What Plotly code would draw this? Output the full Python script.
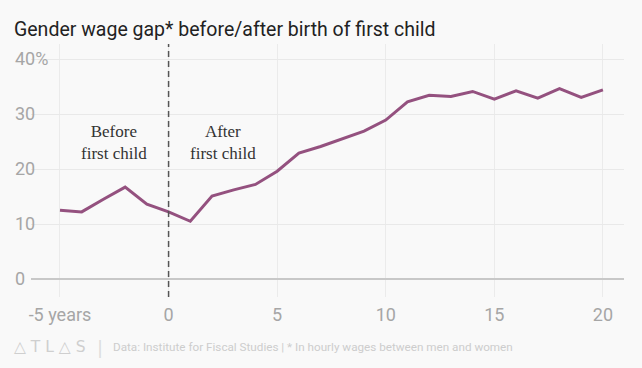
import plotly.graph_objects as go

# ---- data ----
years = list(range(-5, 21))
wage_gap = [12.5, 12.2, 14.5, 16.7, 13.6, 12.2, 10.5, 15.1, 16.2, 17.2,
            19.6, 22.9, 24.1, 25.5, 26.9, 28.9, 32.2, 33.4, 33.2, 34.1,
            32.7, 34.2, 32.9, 34.6, 33.0, 34.4]
x_tick_vals = [-5, 0, 5, 10, 15, 20]
x_tick_text = ["-5 years", "0", "5", "10", "15", "20"]
y_tick_vals = [0, 10, 20, 30, 40]
y_tick_text = ["0", "10", "20", "30", "40%"]
birth_year = 0
label_before = ("Before<br>first child", -2.5, 24.9)
label_after = ("After<br>first child", 2.5, 24.9)

title_text = "Gender wage gap* before/after birth of first child"
source_text = "Data: Institute for Fiscal Studies | * In hourly wages between men and women"

BG = "#f9f9f9"
LINE = "#94517f"
PLOT_W, PLOT_H, ML, MT = 593, 253, 31, 44

fig = go.Figure()
fig.add_trace(go.Scatter(x=years, y=wage_gap, mode="lines",
                         line=dict(color=LINE, width=3), hoverinfo="skip",
                         showlegend=False))

fig.add_vline(x=birth_year, line=dict(color="#555555", width=1.5, dash="6px,4px"))

# gaps in the horizontal gridlines right after the y tick labels
gap_ends = {10: 38, 20: 40, 30: 40, 40: 62}
for yv, px_end in gap_ends.items():
    fig.add_shape(type="rect", xref="paper", yref="y", layer="between",
                  x0=0, x1=(px_end - ML) / PLOT_W, y0=yv - 0.4, y1=yv + 0.4,
                  fillcolor=BG, line=dict(width=0))

for txt, xv, yv in (label_before, label_after):
    fig.add_annotation(x=xv, y=yv, text=txt, showarrow=False,
                       font=dict(family="Liberation Serif", size=17, color="#333333"),
                       align="center")

fig.update_layout(
    width=642, height=368,
    margin=dict(l=ML, r=642 - ML - PLOT_W, t=MT, b=368 - MT - PLOT_H),
    paper_bgcolor=BG, plot_bgcolor=BG,
    title=dict(text=title_text, x=14/642, xanchor="left", xref="container",
               y=1 - 29/368, yanchor="middle", yref="container",
               font=dict(family="Roboto", size=19.5, color="#222222")),
    xaxis=dict(range=[-6.335, 20.97], tickvals=x_tick_vals, ticktext=x_tick_text,
               showgrid=True, gridcolor="#ebebeb", gridwidth=1, zeroline=False,
               showline=False, ticks="",
               tickfont=dict(family="Roboto", size=18, color="#a6a6a6"),
               ticklabelstandoff=5),
    yaxis=dict(range=[-3.27, 42.73], tickvals=y_tick_vals, ticktext=y_tick_text,
               showgrid=True, gridcolor="#e9e9e9", gridwidth=1,
               zeroline=True, zerolinecolor="#c8c8c8", zerolinewidth=1.5,
               showline=False, ticks="",
               ticklabelposition="inside", ticklabelstandoff=-19,
               tickfont=dict(family="Roboto", size=18, color="#a6a6a6")),
)

fig.add_annotation(xref="paper", yref="paper", x=-19/PLOT_W, y=-50/PLOT_H,
                   xanchor="left", yanchor="middle", showarrow=False,
                   text="△ T L △ S", font=dict(family="DejaVu Sans", size=15.5, color="#cfcfcf"))
fig.add_annotation(xref="paper", yref="paper", x=(100-ML)/PLOT_W, y=-50/PLOT_H,
                   xanchor="center", yanchor="middle", showarrow=False,
                   text="|", font=dict(family="DejaVu Sans", size=18, color="#dddddd"))
fig.add_annotation(xref="paper", yref="paper", x=(111-ML)/PLOT_W, y=-50/PLOT_H,
                   xanchor="left", yanchor="middle", showarrow=False,
                   text=source_text, font=dict(family="Roboto", size=11.7, color="#cdcdcd"))

fig.write_html("out.html", config={"displayModeBar": False},
               post_script="document.body.style.margin='0';")
